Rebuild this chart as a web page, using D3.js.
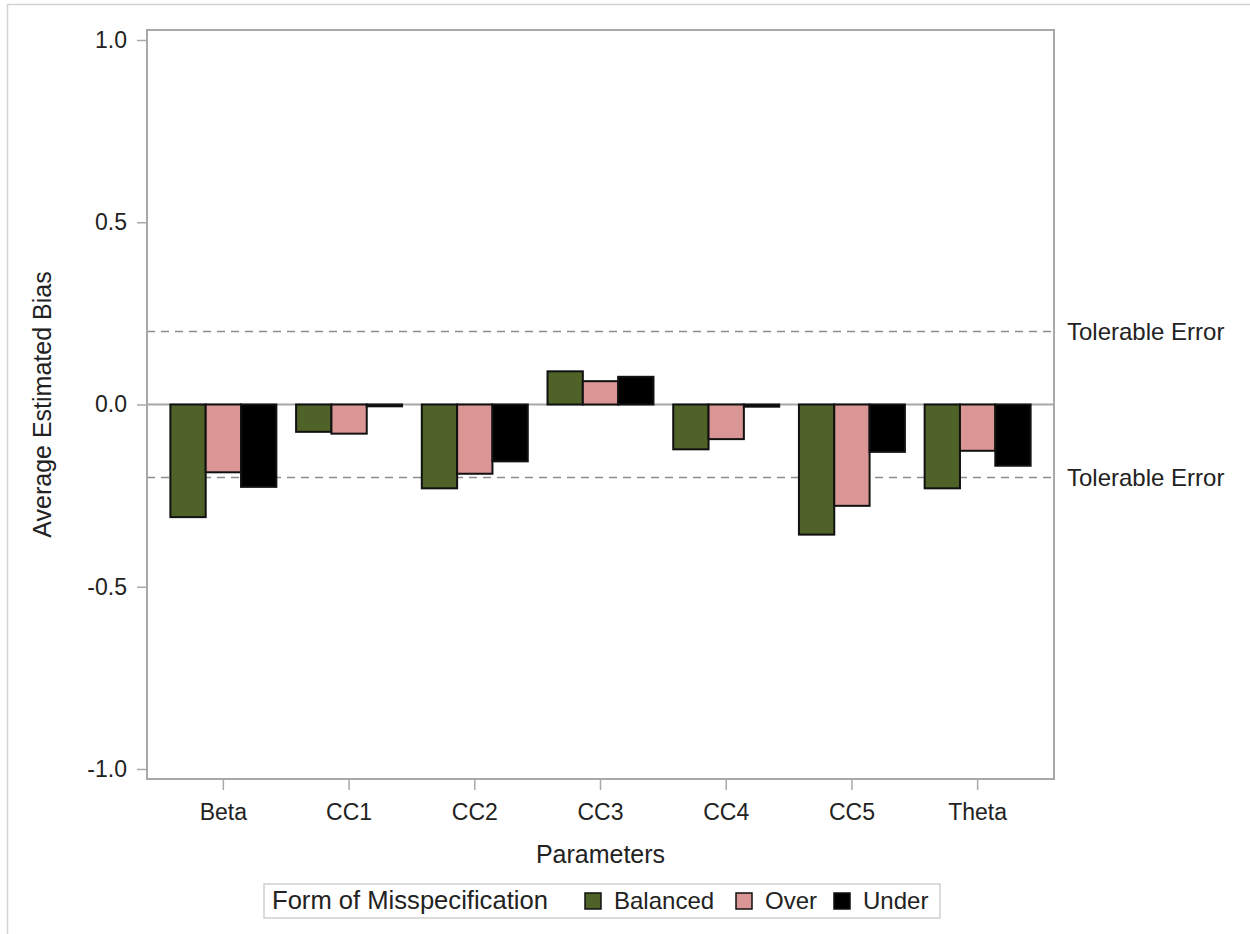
<!DOCTYPE html>
<html>
<head>
<meta charset="utf-8">
<script src="https://cdn.jsdelivr.net/npm/d3@7"></script>
<style>
  body { margin: 0; background: #fff; }
  text { font-family: "Liberation Sans", Arial, sans-serif; fill: #222; }
</style>
</head>
<body>
<div class="canvas"></div>
<script>
// data
const params = ['Beta', 'CC1', 'CC2', 'CC3', 'CC4', 'CC5', 'Theta']
const forms = ['Balanced', 'Over', 'Under']
const balanced = [-0.309, -0.075, -0.230, 0.091, -0.123, -0.357, -0.230]
const over = [-0.186, -0.080, -0.190, 0.064, -0.095, -0.278, -0.127]
const under = [-0.226, -0.005, -0.156, 0.076, -0.006, -0.130, -0.168]
const yTicks = [-1.0, -0.5, 0.0, 0.5, 1.0]
const refLines = [0.2, -0.2]
const refLabel = 'Tolerable Error'

const colors = { Balanced: '#4f6228', Over: '#d99694', Under: '#000000' }

const dims = { width: 1250, height: 934 }
const plot = { left: 147, right: 1054, top: 30, bottom: 779 }

const svg = d3.select('.canvas')
  .append('svg')
  .attr('width', dims.width)
  .attr('height', dims.height)

// outer frame
svg.append('path')
  .attr('d', `M7.5,${dims.height} V4.5 H${dims.width}`)
  .attr('fill', 'none')
  .attr('stroke', '#d4d4d4')
  .attr('stroke-width', 1.5)

const x0 = d3.scaleBand()
  .domain(params)
  .range([plot.left, plot.right])
  .paddingInner(0.157)
  .paddingOuter(0.186)

const x1 = d3.scaleBand()
  .domain(forms)
  .range([0, x0.bandwidth()])

const y = d3.scaleLinear()
  .domain([-1, 1])
  .range([769, 40])

const rows = params.map((p, i) => ({
  param: p,
  values: [
    { form: 'Balanced', value: balanced[i] },
    { form: 'Over', value: over[i] },
    { form: 'Under', value: under[i] }
  ]
}))

// reference lines
svg.selectAll('.ref')
  .data(refLines)
  .enter()
  .append('line')
    .attr('class', 'ref')
    .attr('x1', plot.left)
    .attr('x2', plot.right)
    .attr('y1', d => y(d))
    .attr('y2', d => y(d))
    .attr('stroke', '#8c8c8c')
    .attr('stroke-width', 1.5)
    .attr('stroke-dasharray', '8,6')

svg.selectAll('.ref-label')
  .data(refLines)
  .enter()
  .append('text')
    .attr('class', 'ref-label')
    .attr('x', plot.right + 13)
    .attr('y', d => y(d))
    .attr('dy', '0.36em')
    .attr('font-size', 24)
    .text(refLabel)

// zero line
svg.append('line')
  .attr('x1', plot.left)
  .attr('x2', plot.right)
  .attr('y1', y(0))
  .attr('y2', y(0))
  .attr('stroke', '#a8a8a8')
  .attr('stroke-width', 2)

// bars
const groups = svg.selectAll('.group')
  .data(rows)
  .enter()
  .append('g')
    .attr('class', 'group')
    .attr('transform', d => `translate(${x0(d.param)}, 0)`)

groups.selectAll('rect')
  .data(d => d.values)
  .enter()
  .append('rect')
    .attr('x', d => x1(d.form))
    .attr('width', x1.bandwidth())
    .attr('y', d => y(Math.max(0, d.value)))
    .attr('height', d => Math.abs(y(d.value) - y(0)))
    .attr('fill', d => colors[d.form])
    .attr('stroke', '#111')
    .attr('stroke-width', 2)

// plot frame
svg.append('rect')
  .attr('x', plot.left)
  .attr('y', plot.top)
  .attr('width', plot.right - plot.left)
  .attr('height', plot.bottom - plot.top)
  .attr('fill', 'none')
  .attr('stroke', '#a8a8a8')
  .attr('stroke-width', 2)

// y axis
const yAxis = svg.append('g')
  .attr('transform', `translate(${plot.left}, 0)`)
  .call(d3.axisLeft(y).tickValues(yTicks).tickFormat(d3.format('.1f')).tickSize(10).tickPadding(10))
yAxis.select('.domain').remove()
yAxis.selectAll('line').attr('stroke', '#a8a8a8').attr('stroke-width', 1.5)
yAxis.selectAll('text')
  .attr('font-size', 23)
  .attr('font-family', '"Liberation Sans", Arial, sans-serif')
  .attr('fill', '#222')
  .text(d => d3.format('.1f')(d).replace('−', '-'))

// x axis
const xAxis = svg.append('g')
  .attr('transform', `translate(0, ${plot.bottom})`)
  .call(d3.axisBottom(x0).tickSize(11).tickPadding(14))
xAxis.select('.domain').remove()
xAxis.selectAll('line').attr('stroke', '#a8a8a8').attr('stroke-width', 1.5)
xAxis.selectAll('text')
  .attr('font-size', 23)
  .attr('font-family', '"Liberation Sans", Arial, sans-serif')
  .attr('fill', '#222')

// axis labels
svg.append('text')
  .attr('x', (plot.left + plot.right) / 2)
  .attr('y', 863)
  .attr('text-anchor', 'middle')
  .attr('font-size', 25)
  .text('Parameters')

svg.append('text')
  .attr('transform', `translate(51, ${(plot.top + plot.bottom) / 2}) rotate(-90)`)
  .attr('text-anchor', 'middle')
  .attr('font-size', 25)
  .text('Average Estimated Bias')

// legend
const legend = svg.append('g')

legend.append('rect')
  .attr('x', 264)
  .attr('y', 884)
  .attr('width', 676)
  .attr('height', 34)
  .attr('fill', '#fff')
  .attr('stroke', '#d0d0d0')
  .attr('stroke-width', 1.5)

legend.append('text')
  .attr('x', 272)
  .attr('y', 909)
  .attr('font-size', 25.6)
  .text('Form of Misspecification')

const legendX = { Balanced: 585, Over: 736, Under: 834 }

const items = legend.selectAll('.item')
  .data(forms)
  .enter()
  .append('g')
    .attr('class', 'item')
    .attr('transform', d => `translate(${legendX[d]}, 893)`)

items.append('rect')
  .attr('width', 16)
  .attr('height', 16)
  .attr('fill', d => colors[d])
  .attr('stroke', '#111')
  .attr('stroke-width', 1.5)

items.append('text')
  .attr('x', 29)
  .attr('y', 16)
  .attr('font-size', 24)
  .text(d => d)
</script>
</body>
</html>
